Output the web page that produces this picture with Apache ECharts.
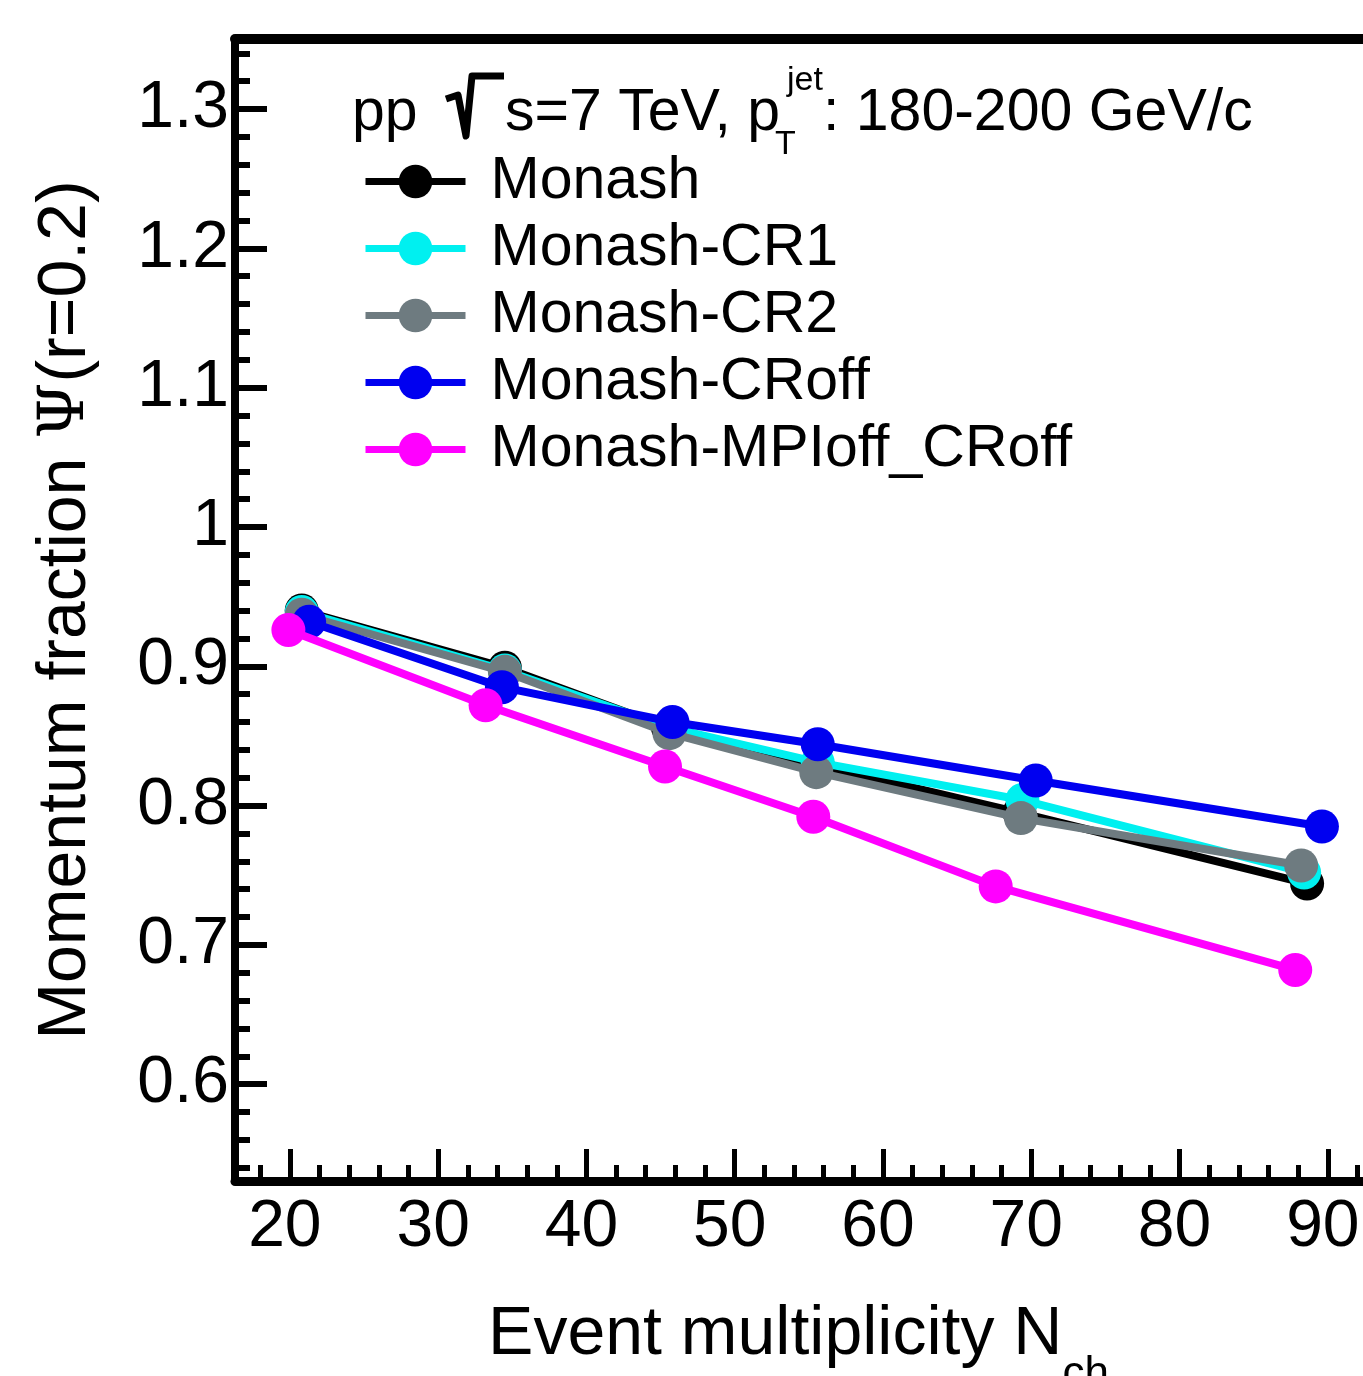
<!DOCTYPE html>
<html>
<head>
<meta charset="utf-8">
<script src="https://cdn.jsdelivr.net/npm/echarts@6/dist/echarts.min.js"></script>
<style>
  html, body { margin: 0; padding: 0; background: #fff; }
  #main { width: 1363px; height: 1376px; }
</style>
</head>
<body>
<div id="main"></div>
<script>
// series names
var seriesNames = ['Monash', 'Monash-CR1', 'Monash-CR2', 'Monash-CRoff', 'Monash-MPIoff_CRoff'];
var seriesColors = ['#000000', '#00f0f0', '#6e7b80', '#0000f0', '#ff00ff'];

// event multiplicity (x) and momentum fraction (y) per tune
var monashX = [20.8, 34.5, 45.5, 55.6, 69.2, 88.6];
var monashY = [0.940, 0.899, 0.856, 0.829, 0.795, 0.744];
var cr1X = [20.8, 34.5, 45.6, 55.6, 69.4, 88.4];
var cr1Y = [0.939, 0.897, 0.856, 0.831, 0.804, 0.752];
var cr2X = [20.8, 34.5, 45.6, 55.5, 69.3, 88.2];
var cr2Y = [0.937, 0.896, 0.852, 0.824, 0.791, 0.757];
var croffX = [21.3, 34.3, 45.8, 55.6, 70.3, 89.6];
var croffY = [0.932, 0.885, 0.860, 0.844, 0.818, 0.785];
var mpiX = [19.9, 33.2, 45.3, 55.3, 67.6, 87.8];
var mpiY = [0.926, 0.872, 0.828, 0.792, 0.742, 0.682];

// tick values
var xMajorTicks = [20, 30, 40, 50, 60, 70, 80, 90];
var xMinorTicks = [18, 22, 24, 26, 28, 32, 34, 36, 38, 42, 44, 46, 48, 52, 54, 56, 58,
  62, 64, 66, 68, 72, 74, 76, 78, 82, 84, 86, 88, 92, 94];
var yMajorTicks = [0.6, 0.7, 0.8, 0.9, 1.0, 1.1, 1.2, 1.3];
var yMinorTicks = [0.54, 0.56, 0.58, 0.62, 0.64, 0.66, 0.68, 0.72, 0.74, 0.76, 0.78,
  0.82, 0.84, 0.86, 0.88, 0.92, 0.94, 0.96, 0.98, 1.02, 1.04, 1.06, 1.08,
  1.12, 1.14, 1.16, 1.18, 1.22, 1.24, 1.26, 1.28, 1.32, 1.34];

var allX = [monashX, cr1X, cr2X, croffX, mpiX];
var allY = [monashY, cr1Y, cr2Y, croffY, mpiY];

var FONT = 'Liberation Sans';
var X_MIN = 16.3, X_MAX = 95, Y_MIN = 0.5305, Y_MAX = 1.3503;

function pairs(xs, ys) {
  return xs.map(function (x, i) { return [x, ys[i]]; });
}

var series = seriesNames.map(function (name, i) {
  return {
    name: name,
    type: 'line',
    data: pairs(allX[i], allY[i]),
    symbol: 'circle',
    symbolSize: 34,
    lineStyle: { color: seriesColors[i], width: 8 },
    itemStyle: { color: seriesColors[i] },
    emphasis: { disabled: true },
    z: 3 + i
  };
});

var myChart = echarts.init(document.getElementById('main'));

var option = {
  animation: false,
  backgroundColor: '#fff',
  textStyle: { fontFamily: FONT },
  grid: { left: 235, top: 39, width: 1167, height: 1142, containLabel: false, outerBoundsMode: 'none' },
  legend: {
    orient: 'vertical',
    left: 362,
    top: 152,
    padding: 0,
    itemWidth: 100,
    itemHeight: 42,
    itemGap: 8,
    selectedMode: false,
    data: seriesNames,
    lineStyle: { width: 7 },
    textStyle: { fontFamily: FONT, fontSize: 59, color: '#000', lineHeight: 42, padding: [0, 0, 0, 20] }
  },
  xAxis: [
    {
      type: 'value',
      min: X_MIN,
      max: X_MAX,
      splitLine: { show: false },
      axisLine: { show: true, onZero: false, lineStyle: { color: '#000', width: 9 } },
      axisTick: { show: true, inside: true, length: 32, lineStyle: { width: 5, color: '#000' }, customValues: xMajorTicks },
      axisLabel: { customValues: xMajorTicks, fontSize: 66, color: '#000', margin: 14, padding: [0, 10, 0, 0] },
      name: '{t|Event multiplicity N}{s|ch}',
      nameLocation: 'middle',
      nameGap: 92,
      nameTextStyle: {
        padding: [0, 40, 0, 0],
        rich: {
          t: { fontFamily: FONT, fontSize: 68, color: '#000' },
          s: { fontFamily: FONT, fontSize: 44, color: '#000', padding: [80, 0, 0, 0] }
        }
      }
    },
    {
      type: 'value',
      min: X_MIN,
      max: X_MAX,
      position: 'bottom',
      splitLine: { show: false },
      axisLine: { show: false },
      axisLabel: { show: false },
      axisTick: { show: true, inside: true, length: 16, lineStyle: { width: 5, color: '#000' }, customValues: xMinorTicks }
    },
    {
      type: 'value',
      min: X_MIN,
      max: X_MAX,
      position: 'top',
      splitLine: { show: false },
      axisLine: { show: true, onZero: false, lineStyle: { color: '#000', width: 10 } },
      axisLabel: { show: false },
      axisTick: { show: false }
    }
  ],
  yAxis: [
    {
      type: 'value',
      min: Y_MIN,
      max: Y_MAX,
      position: 'left',
      splitLine: { show: false },
      axisLine: { show: true, onZero: false, lineStyle: { color: '#000', width: 8 } },
      axisTick: { show: true, inside: true, length: 32, lineStyle: { width: 6, color: '#000' }, customValues: yMajorTicks },
      axisLabel: {
        customValues: yMajorTicks,
        fontSize: 66,
        color: '#000',
        margin: 6,
        formatter: function (v) { return String(Math.round(v * 10) / 10); }
      },
      name: '{t|Momentum fraction }{p|Ψ}{t|(r=0.2)}',
      nameLocation: 'middle',
      nameGap: 135,
      nameTextStyle: {
        rich: {
          t: { fontFamily: FONT, fontSize: 68, color: '#000' },
          p: { fontFamily: 'DejaVu Serif', fontSize: 64, color: '#000' }
        }
      }
    },
    {
      type: 'value',
      min: Y_MIN,
      max: Y_MAX,
      position: 'left',
      splitLine: { show: false },
      axisLine: { show: false },
      axisLabel: { show: false },
      axisTick: { show: true, inside: true, length: 15, lineStyle: { width: 6, color: '#000' }, customValues: yMinorTicks }
    }
  ],
  graphic: [
    { type: 'text', left: 352, top: 84, style: { text: 'pp', font: '59px "Liberation Sans"', fill: '#000' } },
    {
      type: 'polyline',
      shape: { points: [[446, 99], [458, 95], [466, 136], [472, 76], [504, 76]] },
      style: { stroke: '#000', lineWidth: 7, fill: null, lineJoin: 'round' }
    },
    { type: 'text', left: 505, top: 84, style: { text: 's=7 TeV, p', font: '59px "Liberation Sans"', fill: '#000' } },
    { type: 'text', left: 787, top: 64, style: { text: 'jet', font: '34px "Liberation Sans"', fill: '#000' } },
    { type: 'text', left: 775, top: 128, style: { text: 'T', font: '34px "Liberation Sans"', fill: '#000' } },
    { type: 'text', left: 823, top: 84, style: { text: ': 180-200 GeV/c', font: '59px "Liberation Sans"', fill: '#000' } }
  ],
  series: series
};

myChart.setOption(option);

window.addEventListener('resize', function () {
  myChart.resize();
});
</script>
</body>
</html>
